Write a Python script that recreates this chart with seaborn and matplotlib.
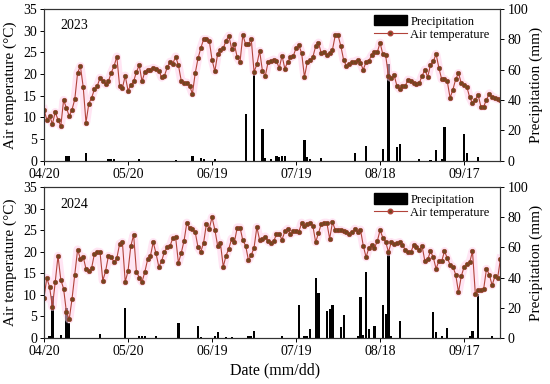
import matplotlib
matplotlib.use("Agg")
import matplotlib.pyplot as plt
import matplotlib.patches as mpatches
import matplotlib.lines as mlines
import numpy as np
import seaborn as sns

# day index 0 = 04/20, last = 09/30
tick_days = [0, 30, 60, 90, 120, 150]
tick_labels = ["04/20", "05/20", "06/19", "07/19", "08/18", "09/17"]

temp_2023 = [
    11.8, 9.5, 10.4, 8.5, 11.2, 9.5, 8.0, 14.0, 12.2, 10.3,
    11.8, 14.2, 20.3, 21.8, 17.0, 8.8, 13.2, 14.5, 16.5, 17.2,
    19.1, 18.5, 17.6, 18.3, 20.3, 21.8, 24.0, 17.2, 16.8, 19.6,
    16.2, 17.4, 18.3, 20.5, 22.0, 18.3, 20.5, 21.0, 21.0, 21.4,
    21.1, 20.8, 19.2, 19.6, 21.5, 22.8, 22.4, 24.0, 22.0, 18.5,
    18.0, 18.0, 17.2, 15.5, 20.2, 23.6, 26.0, 28.0, 28.0, 27.7,
    23.3, 20.6, 24.6, 25.5, 25.9, 27.7, 28.8, 25.8, 26.8, 23.8,
    22.8, 29.0, 26.8, 26.8, 28.0, 20.5, 22.2, 25.3, 20.7, 19.5,
    22.7, 23.0, 23.3, 22.9, 21.4, 24.2, 21.2, 22.8, 23.8, 24.1,
    26.0, 26.6, 24.8, 19.3, 22.7, 23.2, 23.9, 26.4, 27.2, 24.8,
    25.1, 24.3, 24.8, 25.6, 28.9, 28.9, 26.4, 23.2, 21.8, 22.3,
    22.8, 22.8, 23.2, 22.5, 21.0, 22.8, 23.1, 24.3, 25.0, 25.0,
    27.2, 24.5, 24.3, 19.5, 19.1, 19.8, 17.3, 16.5, 17.3, 17.3,
    18.7, 18.5, 17.9, 17.8, 17.9, 19.6, 21.0, 19.3, 22.1, 22.9,
    24.6, 21.4, 18.8, 18.8, 18.3, 14.5, 16.4, 18.8, 20.2, 17.9,
    17.5, 17.0, 14.6, 13.3, 14.1, 15.2, 12.5, 12.5, 14.1, 15.5,
    14.8, 14.5, 14.2, 14.1,
]

temp_2024 = [
    9.3, 13.9, 11.8, 7.2, 12.9, 19.0, 13.5, 11.4, 6.0, 4.3,
    9.0, 14.7, 20.5, 18.3, 18.8, 16.0, 15.5, 16.2, 19.5, 20.0,
    19.9, 13.3, 15.5, 19.0, 18.7, 17.6, 18.5, 21.8, 22.2, 13.0,
    15.5, 21.3, 23.9, 15.4, 14.0, 13.0, 15.3, 18.2, 19.0, 22.2,
    19.6, 16.5, 17.8, 20.0, 21.0, 21.3, 23.2, 23.3, 17.4, 19.7,
    22.5, 26.7, 25.4, 25.2, 24.5, 21.0, 20.0, 22.1, 26.5, 25.3,
    28.0, 25.1, 21.4, 22.0, 16.5, 19.1, 20.7, 23.0, 22.3, 25.6,
    25.6, 22.6, 21.4, 18.0, 19.2, 20.9, 25.7, 22.7, 23.0, 23.5,
    22.4, 22.0, 22.4, 24.0, 24.0, 22.8, 24.7, 25.3, 24.0, 24.7,
    24.7, 24.6, 26.7, 25.9, 26.5, 26.7, 26.0, 22.2, 24.3, 26.4,
    26.7, 26.7, 23.0, 26.8, 25.1, 25.0, 25.0, 24.7, 24.5, 24.1,
    24.5, 25.3, 24.5, 25.1, 21.4, 18.7, 20.9, 21.6, 20.9, 22.4,
    25.0, 23.2, 22.3, 19.9, 22.2, 21.8, 22.0, 22.2, 21.5, 20.5,
    19.9, 19.9, 21.6, 21.0, 20.5, 21.3, 17.8, 18.2, 20.1, 18.7,
    16.0, 17.9, 17.8, 20.1, 18.5, 17.0, 16.5, 14.7, 10.6, 14.3,
    16.5, 17.2, 17.5, 20.1, 10.3, 11.1, 11.2, 11.4, 16.0, 14.7,
    12.2, 14.3, 14.0, 18.4,
]

# rainy days only (day index, mm)
rain_days_2023 = [8, 9, 15, 23, 24, 25, 34, 47, 53, 56, 57, 61, 72, 75, 78, 79, 81,
                  83, 84, 85, 86, 93, 94, 95, 99, 111, 115, 121, 123, 126, 127,
                  134, 138, 140, 142, 143, 150, 151, 155]
rain_2023 = [3.0, 3.5, 5.0, 1.3, 1.5, 1.5, 1.0, 0.5, 3.3, 2.0, 1.0, 1.5, 31.0, 57.0, 21.0, 2.0, 1.0,
             3.0, 2.5, 3.0, 3.0, 14.0, 2.4, 1.0, 2.0, 5.5, 9.5, 8.0, 64.0, 9.0, 11.0,
             1.0, 0.5, 7.0, 1.0, 22.5, 18.0, 5.5, 2.5]

rain_days_2024 = [0, 2, 3, 6, 8, 9, 20, 29, 34, 35, 36, 40, 48, 55, 56, 61, 62, 65, 67,
                  73, 74, 75, 85, 91, 93, 94, 95, 97, 98, 101, 102, 103, 106, 107,
                  112, 113, 114, 115, 116, 118, 121, 122, 123, 124, 127,
                  139, 140, 142, 144, 152, 153, 155, 160]
rain_2024 = [1.0, 1.0, 28.0, 2.0, 19.5, 10.0, 2.6, 20.0, 1.0, 1.0, 1.0, 1.0, 10.0, 8.0, 0.5, 1.0, 3.8, 0.5, 0.5,
             1.0, 1.0, 4.5, 1.0, 22.0, 1.0, 1.0, 6.0, 40.0, 30.0, 18.0, 19.0, 22.0, 7.0, 15.0,
             1.0, 27.0, 2.0, 43.5, 6.0, 7.7, 22.0, 16.0, 56.0, 1.0, 11.0,
             17.0, 4.0, 1.0, 6.5, 1.0, 4.5, 29.0, 1.0]

plt.rcParams["font.family"] = ["Liberation Serif", "DejaVu Serif"]

fig = plt.figure(figsize=(5.5, 3.84), dpi=100)
ax_top = fig.add_axes([0.080, 0.581, 0.830, 0.396])
ax_bot = fig.add_axes([0.080, 0.120, 0.830, 0.393])

panels = [
    (ax_top, "2023", temp_2023, rain_days_2023, rain_2023),
    (ax_bot, "2024", temp_2024, rain_days_2024, rain_2024),
]

line_col = "#b2433a"
mk_face = "#74451f"

for ax, year, temp, rdays, rain in panels:
    days = np.arange(len(temp))
    ax2 = ax.twinx()
    ax2.bar(rdays, rain, width=0.8, color="black", zorder=2)
    ax2.set_ylim(0, 100)
    ax2.set_yticks(range(0, 101, 20))
    ax2.set_ylabel("Precipitation (mm)", fontsize=11)
    ax2.yaxis.set_label_coords(1.063, 0.5)

    # pink glow under the temperature line
    sns.lineplot(x=days, y=temp, ax=ax, color="#ffd0ea", lw=6, alpha=0.55,
                 legend=False)
    sns.lineplot(x=days, y=temp, ax=ax, color=line_col, lw=0.8, marker="o",
                 markersize=3.3, markerfacecolor=mk_face,
                 markeredgecolor="#9c3b2a", markeredgewidth=0.4, legend=False)
    ax.set_zorder(ax2.get_zorder() + 1)
    ax.patch.set_visible(False)

    ax.set_ylim(0, 35)
    ax.set_yticks(range(0, 36, 5))
    ax.set_xlim(0, 163)
    ax.set_xticks(tick_days)
    ax.set_xticklabels(tick_labels)
    ax.set_ylabel("Air temperature (°C)", fontsize=11)
    ax.yaxis.set_label_coords(-0.06, 0.5)
    ax.set_xlabel("")
    ax.text(0.035, 0.93, year, transform=ax.transAxes, fontsize=10, va="top")

    for a in (ax, ax2):
        a.tick_params(labelsize=10, length=3, width=0.7, pad=2)
        for s in a.spines.values():
            s.set_linewidth(0.8)
            s.set_color("#333333")

    h_bar = mpatches.Patch(color="black", label="Precipitation")
    h_line = mlines.Line2D([], [], color=line_col, lw=0.8, marker="o",
                           markersize=3.3, markerfacecolor=mk_face,
                           label="Air temperature")
    ax.legend(handles=[h_bar, h_line], loc="upper right", frameon=False,
              fontsize=9, handlelength=2.6, handleheight=0.9,
              labelspacing=0.05, borderaxespad=0.1, handletextpad=0.3,
              bbox_to_anchor=(0.99, 1.0))

fig.text(0.5, 0.025, "Date (mm/dd)", ha="center", fontsize=11.5)

fig.savefig("out.png", dpi=100)
